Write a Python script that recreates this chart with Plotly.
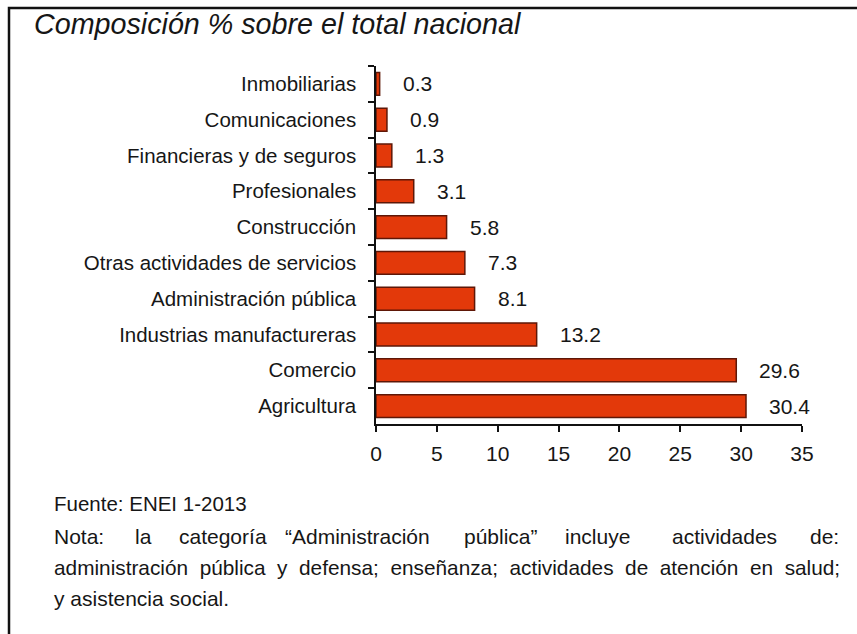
import plotly.graph_objects as go

# Sectors, top to bottom, and their share (%) of the national total
categories = [
    "Inmobiliarias",
    "Comunicaciones",
    "Financieras y de seguros",
    "Profesionales",
    "Construcción",
    "Otras actividades de servicios",
    "Administración pública",
    "Industrias manufactureras",
    "Comercio",
    "Agricultura",
]
values = [0.3, 0.9, 1.3, 3.1, 5.8, 7.3, 8.1, 13.2, 29.6, 30.4]
x_ticks = [0, 5, 10, 15, 20, 25, 30, 35]

title_text = "Composición % sobre el total nacional"
source_text = "Fuente: ENEI 1-2013"
note_line1 = ["Nota:", "la", "categoría", "“Administración", "pública”",
              "incluye", "actividades", "de:"]
note_line2 = ["administración", "pública", "y", "defensa;", "enseñanza;",
              "actividades", "de", "atención", "en", "salud;"]
note_line3 = "y asistencia social."

W, H = 857, 634
L, R, T, B = 376, 55, 66, 210
PW, PH = W - L - R, H - T - B

FONT = "Liberation Sans, Arial, sans-serif"
INK = "#161616"


def px(x):
    return (x - L) / PW


def py(y):
    return (H - B - y) / PH


fig = go.Figure(
    go.Bar(
        x=values,
        y=categories,
        orientation="h",
        width=0.64,
        marker=dict(color="#E3390A", line=dict(color="#5E1707", width=1.5)),
        hoverinfo="skip",
    )
)

annotations = []
# value labels beside each bar
for cat, v in zip(categories, values):
    annotations.append(dict(
        x=v, y=cat, xref="x", yref="y", text=f"{v:.1f}",
        xanchor="left", yanchor="middle", xshift=21, showarrow=False,
        font=dict(family=FONT, size=21, color=INK),
    ))

# title
annotations.append(dict(
    x=px(32), y=py(24), xref="paper", yref="paper",
    text=f"<i>{title_text}</i>", xanchor="left", yanchor="middle",
    showarrow=False,
    font=dict(family=FONT, size=28.7, color=INK),
))

# source and note


def note_text(text, x, y, anchor="left", size=21):
    annotations.append(dict(
        x=px(x), y=py(y), xref="paper", yref="paper", text=text,
        xanchor=anchor, yanchor="middle", showarrow=False,
        font=dict(family=FONT, size=size, color=INK),
    ))


note_text(source_text, 52, 503, size=20.5)

# first note line is justified word by word across the box
line1_left = [52, 133, 177, 283, 462, 563, 670]
for w, xl in zip(note_line1[:-1], line1_left):
    note_text(w, xl, 536)
note_text(note_line1[-1], 841, 536, anchor="right")

# second line: slightly widened word spacing
note_text("\u00a0 ".join(note_line2), 52, 567, size=20.8)

note_text(note_line3, 52, 598)

fig.update_layout(
    width=W,
    height=H,
    margin=dict(l=L, r=R, t=T, b=B, autoexpand=False),
    paper_bgcolor="white",
    plot_bgcolor="white",
    showlegend=False,
    annotations=annotations,
    shapes=[dict(
        type="rect", xref="paper", yref="paper",
        x0=px(9), x1=px(W + 20), y0=py(8), y1=py(H + 20),
        line=dict(color="#111111", width=2.5), layer="below",
    )],
    xaxis=dict(
        range=[0, 35],
        tickvals=x_ticks,
        ticktext=[str(t) for t in x_ticks],
        showgrid=False,
        zeroline=False,
        showline=True,
        linecolor="#111111",
        linewidth=1.5,
        ticks="outside",
        ticklen=6,
        tickwidth=1.5,
        tickcolor="#111111",
        ticklabelstandoff=4,
        tickfont=dict(family=FONT, size=21, color=INK),
        fixedrange=True,
    ),
    yaxis=dict(
        autorange="reversed",
        type="category",
        showgrid=False,
        zeroline=False,
        showline=True,
        linecolor="#111111",
        linewidth=1.5,
        ticks="outside",
        tickson="boundaries",
        ticklen=6,
        tickwidth=1.5,
        tickcolor="#111111",
        ticklabelstandoff=14,
        tickfont=dict(family=FONT, size=20.5, color=INK),
        fixedrange=True,
    ),
)

fig.write_html("out.html", config={"displayModeBar": False})
